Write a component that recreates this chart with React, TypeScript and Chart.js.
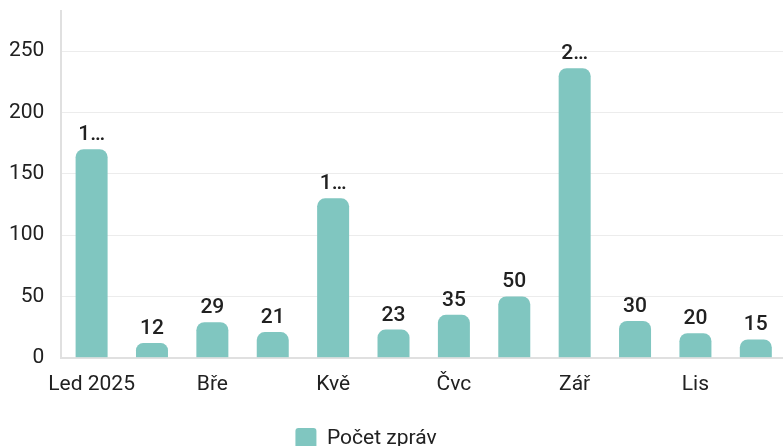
import React, { useEffect, useRef } from 'react';
import { Chart, registerables } from 'chart.js';

Chart.register(...registerables);

const categories = ['Led 2025', 'Úno', 'Bře', 'Dub', 'Kvě', 'Čvn', 'Čvc', 'Srp', 'Zář', 'Říj', 'Lis', 'Pro'];
const messageCounts = [170, 12, 29, 21, 130, 23, 35, 50, 236, 30, 20, 15];
const seriesLabel = 'Počet zpráv';
const yTickStep = 50;
const yMax = 283;

const TEXT = '#212121';
const BAR = '#80c6c0';
const FONT = { family: 'Roboto', size: 21 };

const valueLabels = {
  id: 'valueLabels',
  afterDatasetsDraw(chart: any) {
    const ctx = chart.ctx;
    const meta = chart.getDatasetMeta(0);
    const data = chart.data.datasets[0].data as number[];
    ctx.save();
    ctx.font = '500 21px Roboto';
    ctx.fillStyle = TEXT;
    ctx.textAlign = 'center';
    ctx.textBaseline = 'alphabetic';
    meta.data.forEach((bar: any, i: number) => {
      const { x, y, width } = bar.getProps(['x', 'y', 'width'], true);
      let text = String(data[i]);
      if (ctx.measureText(text).width > width) {
        let k = text.length - 1;
        while (k > 1 && ctx.measureText(text.slice(0, k) + '…').width > width) k--;
        text = text.slice(0, k) + '…';
      }
      ctx.fillText(text, x, y - 9);
    });
    ctx.restore();
  },
};

const legendShift = {
  id: 'legendShift',
  afterLayout(chart: any) {
    const lg = chart.legend;
    if (lg) lg.left -= 46;
  },
};

export default function App() {
  const ref = useRef<HTMLCanvasElement | null>(null);

  useEffect(() => {
    if (!ref.current) return;
    const chart = new Chart(ref.current, {
      type: 'bar',
      data: {
        labels: categories,
        datasets: [
          {
            label: seriesLabel,
            data: messageCounts,
            backgroundColor: BAR,
            borderWidth: 0,
            borderRadius: 8,
            maxBarThickness: 32,
          },
        ],
      },
      options: {
        responsive: false,
        animation: false,
        layout: { padding: 0 },
        plugins: {
          legend: {
            position: 'bottom',
            labels: {
              font: FONT,
              color: TEXT,
              boxWidth: 21,
              boxHeight: 21,
              useBorderRadius: true,
              borderRadius: 3,
              padding: 10,
            },
          },
          tooltip: { enabled: false },
        },
        scales: {
          x: {
            grid: { display: false, drawTicks: false },
            border: { display: true, color: '#e0e0e0', width: 2 },
            ticks: { font: FONT, color: TEXT, maxRotation: 0, autoSkip: true, padding: 14 },
            afterFit: (scale: any) => {
              scale.height += 7;
            },
          },
          y: {
            min: 0,
            max: yMax,
            grid: { color: '#ececec', drawTicks: false },
            border: { display: true, color: '#e0e0e0', width: 2 },
            ticks: { stepSize: yTickStep, includeBounds: false, padding: 17, font: FONT, color: TEXT },
          },
        },
      },
      plugins: [valueLabels, legendShift],
    });
    return () => chart.destroy();
  }, []);

  return (
    <div style={{ position: 'fixed', left: 0, top: 0, width: 783, height: 446, overflow: 'hidden', background: '#fff' }}>
      <canvas
        ref={ref}
        width={794}
        height={478}
        style={{ position: 'absolute', left: -8, top: -19, display: 'block', width: 794, height: 478 }}
      />
    </div>
  );
}
